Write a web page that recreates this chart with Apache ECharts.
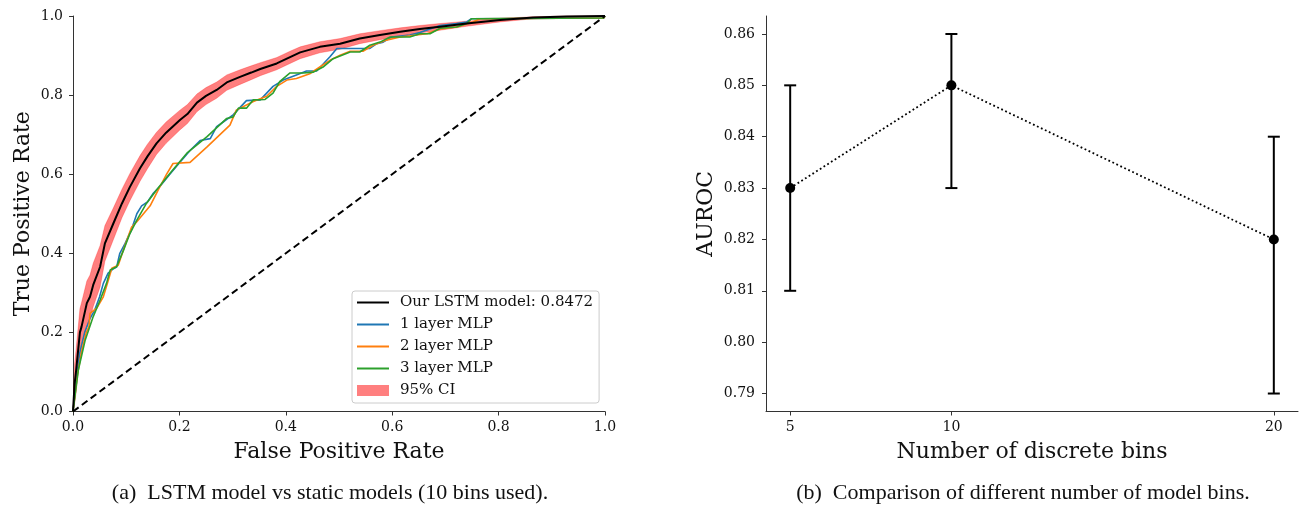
<!DOCTYPE html>
<html>
<head>
<meta charset="utf-8">
<script src="https://cdn.jsdelivr.net/npm/echarts@6/dist/echarts.min.js"></script>
<style>
html,body{margin:0;padding:0;background:#fff;}
#chart{width:1303px;height:507px;}
</style>
</head>
<body>
<div id="chart"></div>
<script>
// ---------- Left panel: ROC curves ----------
const lstmFpr = [0,0.003,0.006,0.013,0.016,0.026,0.032,0.038,0.051,0.06,0.076,0.092,0.107,0.126,0.14,0.157,0.175,0.201,0.215,0.233,0.25,0.27,0.289,0.314,0.335,0.352,0.383,0.408,0.427,0.464,0.502,0.539,0.577,0.615,0.652,0.69,0.74,0.803,0.865,0.928,1.0];
const lstmTpr = [0,0.07,0.105,0.2,0.214,0.274,0.29,0.32,0.366,0.425,0.476,0.526,0.568,0.615,0.645,0.678,0.705,0.737,0.752,0.781,0.798,0.813,0.832,0.846,0.857,0.866,0.880,0.896,0.908,0.922,0.930,0.943,0.952,0.960,0.967,0.973,0.981,0.990,0.996,0.999,1.0];
const ciLower = [0,0.02,0.05,0.14,0.155,0.215,0.235,0.265,0.315,0.38,0.435,0.49,0.533,0.582,0.614,0.65,0.678,0.712,0.728,0.758,0.776,0.792,0.812,0.827,0.839,0.849,0.864,0.88,0.892,0.907,0.916,0.930,0.940,0.949,0.957,0.964,0.974,0.985,0.993,0.998,1.0];
const ciUpper = [0,0.12,0.16,0.26,0.275,0.33,0.345,0.375,0.42,0.47,0.515,0.562,0.602,0.647,0.676,0.706,0.732,0.762,0.776,0.803,0.819,0.833,0.851,0.864,0.874,0.882,0.895,0.911,0.922,0.935,0.943,0.955,0.963,0.970,0.976,0.981,0.987,0.994,0.998,1.0,1.0];

const mlp1Fpr = [0,0.006,0.013,0.022,0.032,0.041,0.05,0.057,0.066,0.075,0.082,0.088,0.098,0.11,0.12,0.129,0.14,0.151,0.164,0.182,0.201,0.22,0.239,0.258,0.27,0.301,0.326,0.352,0.364,0.376,0.395,0.42,0.439,0.458,0.483,0.496,0.558,0.571,0.583,0.599,0.633,0.652,0.69,0.721,0.74,0.749,0.998,1];
const mlp1Tpr = [0,0.08,0.15,0.2,0.235,0.257,0.29,0.324,0.35,0.36,0.365,0.4,0.425,0.46,0.5,0.52,0.53,0.552,0.57,0.60,0.63,0.66,0.685,0.69,0.72,0.75,0.786,0.788,0.805,0.822,0.838,0.851,0.861,0.861,0.897,0.918,0.918,0.93,0.934,0.947,0.952,0.958,0.976,0.981,0.985,0.993,0.995,1];

const mlp2Fpr = [0,0.008,0.016,0.025,0.03,0.032,0.045,0.057,0.066,0.073,0.085,0.098,0.11,0.12,0.145,0.16,0.176,0.188,0.22,0.252,0.295,0.307,0.339,0.364,0.383,0.402,0.42,0.445,0.464,0.483,0.502,0.521,0.545,0.564,0.589,0.615,0.665,0.69,0.721,0.752,0.765,0.998,1];
const mlp2Tpr = [0,0.09,0.15,0.2,0.215,0.248,0.262,0.29,0.33,0.362,0.37,0.421,0.466,0.48,0.52,0.56,0.6,0.627,0.63,0.669,0.724,0.762,0.784,0.797,0.822,0.838,0.842,0.854,0.871,0.888,0.901,0.911,0.911,0.926,0.939,0.947,0.955,0.967,0.972,0.985,0.993,0.995,1];

const mlp3Fpr = [0,0.01,0.023,0.038,0.051,0.063,0.07,0.082,0.095,0.107,0.12,0.138,0.157,0.182,0.214,0.252,0.289,0.301,0.311,0.326,0.339,0.361,0.376,0.389,0.408,0.433,0.452,0.47,0.489,0.521,0.539,0.558,0.577,0.596,0.633,0.652,0.671,0.69,0.721,0.74,0.749,0.997,1];
const mlp3Tpr = [0,0.105,0.181,0.24,0.282,0.324,0.358,0.366,0.408,0.45,0.484,0.526,0.56,0.602,0.653,0.695,0.741,0.745,0.767,0.767,0.788,0.789,0.805,0.835,0.856,0.856,0.858,0.871,0.892,0.909,0.909,0.926,0.934,0.947,0.947,0.955,0.955,0.969,0.972,0.981,0.993,0.995,1];

const chanceX = [0, 1];
const chanceY = [0, 1];

const legendNames = ['Our LSTM model: 0.8472', '1 layer MLP', '2 layer MLP', '3 layer MLP', '95% CI'];

// ---------- Right panel: AUROC vs bins ----------
const bins = [5, 10, 20];
const auroc = [0.83, 0.85, 0.82];
const aurocLow = [0.81, 0.83, 0.79];
const aurocHigh = [0.85, 0.86, 0.84];
const binTicks = [5, 10, 20];
const aurocTicks = [0.79, 0.80, 0.81, 0.82, 0.83, 0.84, 0.85, 0.86];

// ---------- helpers ----------
const zip = (xs, ys) => xs.map((x, i) => [x, ys[i]]);
const SERIF = 'DejaVu Serif';
const axisLineStyle = { color: '#333', width: 1 };
const tickStyle = { show: true, length: 4, lineStyle: { color: '#333', width: 1 } };
const labelStyle = { fontFamily: SERIF, fontSize: 14, color: '#111' };
const nameStyle = { fontFamily: SERIF, fontSize: 22, color: '#111' };

const chart = echarts.init(document.getElementById('chart'), null, { renderer: 'canvas' });

const option = {
  animation: false,
  backgroundColor: '#fff',
  grid: [
    { left: 73, top: 16, width: 532, height: 395.5 },
    { left: 766, top: 16, width: 532, height: 395.5 }
  ],
  xAxis: [
    {
      type: 'value', gridIndex: 0, min: 0, max: 1, interval: 0.2,
      name: 'False Positive Rate', nameLocation: 'middle', nameGap: 30, nameTextStyle: nameStyle,
      axisLine: { show: true, lineStyle: axisLineStyle },
      axisTick: tickStyle,
      axisLabel: { ...labelStyle, margin: 9, formatter: v => v.toFixed(1) },
      splitLine: { show: false }
    },
    {
      type: 'value', gridIndex: 1, min: 4.25, max: 20.75,
      name: 'Number of discrete bins', nameLocation: 'middle', nameGap: 30, nameTextStyle: nameStyle,
      axisLine: { show: true, lineStyle: axisLineStyle },
      axisTick: { ...tickStyle, customValues: binTicks },
      axisLabel: { ...labelStyle, margin: 9, customValues: binTicks, formatter: v => String(v) },
      splitLine: { show: false }
    }
  ],
  yAxis: [
    {
      type: 'value', gridIndex: 0, min: 0, max: 1, interval: 0.2,
      name: 'True Positive Rate', nameLocation: 'middle', nameGap: 39, nameTextStyle: nameStyle,
      axisLine: { show: true, lineStyle: axisLineStyle },
      axisTick: tickStyle,
      axisLabel: { ...labelStyle, margin: 10, formatter: v => v.toFixed(1) },
      splitLine: { show: false }
    },
    {
      type: 'value', gridIndex: 1, min: 0.7865, max: 0.8635,
      name: 'AUROC', nameLocation: 'middle', nameGap: 49, nameTextStyle: nameStyle,
      axisLine: { show: true, lineStyle: axisLineStyle },
      axisTick: { ...tickStyle, customValues: aurocTicks },
      axisLabel: { ...labelStyle, margin: 11, customValues: aurocTicks, formatter: v => v.toFixed(2) },
      splitLine: { show: false }
    }
  ],
  legend: {
    left: 352, top: 291,
    orient: 'vertical', align: 'left',
    selectedMode: false,
    backgroundColor: '#fff',
    borderColor: '#cccccc', borderWidth: 1, borderRadius: 3,
    padding: [4, 6, 5, 5],
    itemWidth: 32, itemHeight: 11, itemGap: 7,
    textStyle: { fontFamily: SERIF, fontSize: 15, color: '#111', padding: [0, 0, 0, 6] },
    data: [
      { name: legendNames[0], icon: 'path://M0,0H32V2H0Z' },
      { name: legendNames[1], icon: 'path://M0,0H32V2H0Z' },
      { name: legendNames[2], icon: 'path://M0,0H32V2H0Z' },
      { name: legendNames[3], icon: 'path://M0,0H32V2H0Z' },
      { name: legendNames[4], icon: 'rect' }
    ]
  },
  series: [
    {
      name: legendNames[4], type: 'custom', xAxisIndex: 0, yAxisIndex: 0, z: 1,
      itemStyle: { color: 'rgba(255,0,0,0.5)' },
      encode: { x: 0, y: [1, 2] },
      data: lstmFpr.map((x, i) => [x, ciLower[i], ciUpper[i]]),
      renderItem: function (params, api) {
        if (params.dataIndex !== 0) return null;
        const pts = [];
        for (let i = 0; i < lstmFpr.length; i++) pts.push(api.coord([lstmFpr[i], ciUpper[i]]));
        for (let i = lstmFpr.length - 1; i >= 0; i--) pts.push(api.coord([lstmFpr[i], ciLower[i]]));
        return { type: 'polygon', shape: { points: pts }, style: { fill: 'rgba(255,0,0,0.5)', stroke: 'rgba(255,0,0,0.25)', lineWidth: 1 } };
      }
    },
    {
      name: legendNames[0], type: 'line', xAxisIndex: 0, yAxisIndex: 0, z: 3,
      color: '#000', showSymbol: false, lineStyle: { color: '#000', width: 2 },
      data: zip(lstmFpr, lstmTpr)
    },
    {
      name: legendNames[1], type: 'line', xAxisIndex: 0, yAxisIndex: 0, z: 2,
      color: '#1f77b4', showSymbol: false, lineStyle: { color: '#1f77b4', width: 1.6 },
      data: zip(mlp1Fpr, mlp1Tpr)
    },
    {
      name: legendNames[2], type: 'line', xAxisIndex: 0, yAxisIndex: 0, z: 2,
      color: '#ff7f0e', showSymbol: false, lineStyle: { color: '#ff7f0e', width: 1.6 },
      data: zip(mlp2Fpr, mlp2Tpr)
    },
    {
      name: legendNames[3], type: 'line', xAxisIndex: 0, yAxisIndex: 0, z: 2,
      color: '#2ca02c', showSymbol: false, lineStyle: { color: '#2ca02c', width: 1.6 },
      data: zip(mlp3Fpr, mlp3Tpr)
    },
    {
      name: 'chance', type: 'line', xAxisIndex: 0, yAxisIndex: 0, z: 2,
      color: '#000', showSymbol: false, lineStyle: { color: '#000', width: 2, type: [7, 4] },
      data: zip(chanceX, chanceY)
    },
    // right panel
    {
      name: 'errorbars', type: 'custom', xAxisIndex: 1, yAxisIndex: 1, z: 3,
      encode: { x: 0, y: [1, 2] },
      data: bins.map((b, i) => [b, aurocLow[i], aurocHigh[i]]),
      renderItem: function (params, api) {
        const lo = api.coord([api.value(0), api.value(1)]);
        const hi = api.coord([api.value(0), api.value(2)]);
        const st = { stroke: '#000', lineWidth: 2 };
        const cw = 6;
        return {
          type: 'group',
          children: [
            { type: 'line', shape: { x1: lo[0], y1: lo[1], x2: hi[0], y2: hi[1] }, style: st },
            { type: 'line', shape: { x1: lo[0] - cw, y1: lo[1], x2: lo[0] + cw, y2: lo[1] }, style: st },
            { type: 'line', shape: { x1: hi[0] - cw, y1: hi[1], x2: hi[0] + cw, y2: hi[1] }, style: st }
          ]
        };
      }
    },
    {
      name: 'auroc', type: 'line', xAxisIndex: 1, yAxisIndex: 1, z: 4,
      color: '#000', symbol: 'circle', symbolSize: 10, showSymbol: true,
      itemStyle: { color: '#000' },
      lineStyle: { color: '#000', width: 1.8, type: [1.8, 2.6] },
      data: zip(bins, auroc)
    }
  ],
  graphic: [
    {
      type: 'text', x: 330, y: 493,
      style: { text: '(a)  LSTM model vs static models (10 bins used).', font: '22px "Liberation Serif"', fill: '#111', textAlign: 'center', textVerticalAlign: 'middle' }
    },
    {
      type: 'text', x: 1023, y: 493,
      style: { text: '(b)  Comparison of different number of model bins.', font: '22px "Liberation Serif"', fill: '#111', textAlign: 'center', textVerticalAlign: 'middle' }
    }
  ]
};

chart.setOption(option);
</script>
</body>
</html>
